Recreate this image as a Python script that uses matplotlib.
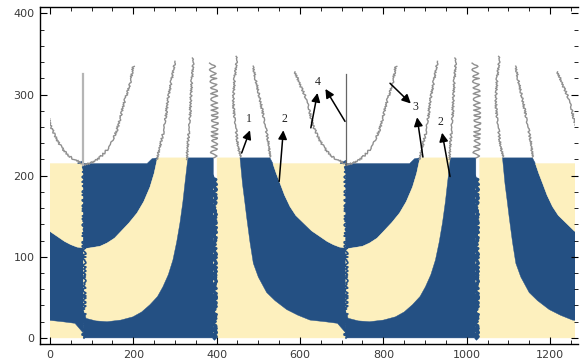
import matplotlib
matplotlib.use("Agg")
import matplotlib.pyplot as plt
from matplotlib.patches import Polygon, Rectangle
from matplotlib.ticker import MultipleLocator

# one period of the pattern (x from 80 to 710), repeated at these offsets
period_offsets = [-630, 0, 630]
x_max = 1260

blue = "#245083"
cream = "#fdf0be"

# region boundaries inside one period
edge_a = [(80, 110), (96, 111), (120, 113), (137, 117), (155, 123), (168, 130),
          (190, 142), (209, 154), (225, 168), (240, 186), (250, 203), (258, 222)]
edge_c = [(80, 25), (110, 21), (137, 20), (170, 22), (199, 26), (220, 32),
          (240, 41), (258, 51), (271, 63), (284, 78), (295, 96), (304, 118),
          (312, 142), (319, 168), (324, 191), (331, 222)]
edge_e1 = [(456, 222), (462, 190), (467, 170), (472, 149), (480, 118), (488, 92),
           (500, 75), (520, 56), (540, 46), (568, 35), (595, 28), (624, 22),
           (660, 20), (690, 18), (700, 12), (710, 6)]
edge_e2 = [(535, 215), (543, 203), (552, 191), (563, 176), (576, 162), (590, 151),
           (608, 142), (628, 132), (648, 125), (665, 119), (680, 115), (695, 112),
           (710, 111)]

blue_a = [(80, 215)] + edge_a + [(245, 221), (233, 215)]
cream_b = edge_a + edge_c[::-1]
blue_c = edge_c + [(392, 222), (392, 0), (80, 0)]
cream_d = [(392, 0), (710, 0)] + edge_e1[::-1] + [(401, 222), (401, 196), (392, 196)]
blue_e = edge_e1 + edge_e2[::-1] + [(528, 222)]
cream_g = edge_e2 + [(710, 215)]
blue_tip = [(66, 215), (80, 219), (80, 215)]
regions = [(blue_a, blue), (cream_b, cream), (blue_c, blue), (cream_d, cream),
           (blue_e, blue), (cream_g, cream), (blue_tip, blue)]

# contour curves above the band
arm_right = [(82, 214), (100, 216), (113, 220), (125, 225), (137, 232), (150, 243),
             (161, 257), (169, 271), (175, 285), (184, 300), (192, 314), (200, 335)]
curve_2 = [(256, 220), (264, 236), (272, 253), (278, 273), (283, 294), (290, 313),
           (296, 331), (300, 341)]
curve_3 = [(328, 220), (332, 246), (336, 273), (340, 314), (344, 345)]
curve_5 = [(457, 223), (450, 240), (446, 260), (441, 280), (440, 294), (443, 320),
           (449, 347)]
curve_6 = [(528, 223), (525, 238), (520, 253), (512, 274), (504, 294), (495, 315),
           (487, 335)]
arm_left = [(588, 328), (602, 310), (616, 294), (624, 277), (632, 261), (644, 247),
            (656, 236), (672, 226), (688, 220), (708, 215)]
zigzag = [(393, 222), (396, 260), (394, 300), (390, 339)]

vline_x = [80, 710]
vline_top = 325

# labels and their arrows: (text, label position, [(tail, head), ...])
labels = [
    ("1", (478, 262), [((460, 228), (480, 256))]),
    ("2", (562, 262), [((550, 193), (560, 256))]),
    ("4", (643, 308), [((626, 259), (642, 302)), ((708, 267), (661, 307))]),
    ("3", (876, 277), [((816, 314), (866, 289)), ((895, 223), (881, 272))]),
    ("2", (938, 259), [((960, 199), (941, 253))]),
]

fig = plt.figure(figsize=(5.82, 3.63), dpi=100)
ax = fig.add_axes([0.0687, 0.0523, 0.9243, 0.9284])
ax.set_xlim(-24, 1267)
ax.set_ylim(-7.5, 408)

clip = Rectangle((0, -10), x_max, 430, transform=ax.transData, visible=False)
ax.add_patch(clip)

for off in period_offsets:
    for pts, col in regions:
        poly = Polygon([(x + off, y) for x, y in pts], closed=True,
                       facecolor=col, edgecolor=col, lw=0.3, zorder=1)
        ax.add_patch(poly)
        poly.set_clip_path(clip)

    # ragged edges of the band
    for ex, y0, y1, w in [(393, 0, 200, 2.2), (81, 0, 214, 1.2)]:
        ln, = ax.plot([ex + off, ex + off], [y0, y1], color=blue, lw=w, zorder=2)
        ln.set_sketch_params(2.0, 4, 3)
        ln.set_clip_path(clip)

    for c in [arm_right, curve_2, curve_3, curve_5, curve_6, arm_left]:
        ln, = ax.plot([x + off for x, y in c], [y for x, y in c],
                      color="#8f8f8f", lw=1.0, zorder=3)
        ln.set_sketch_params(1.0, 2, 2)
        ln.set_clip_path(clip)
    ln, = ax.plot([x + off for x, y in zigzag], [y for x, y in zigzag],
                  color="#8f8f8f", lw=1.0, zorder=3)
    ln.set_sketch_params(3.5, 6, 2)
    ln.set_clip_path(clip)

ax.plot([vline_x[0], vline_x[0]], [213, vline_top], color="#b5b5b5", lw=1.6, zorder=3)
ax.plot([vline_x[1], vline_x[1]], [213, vline_top], color="#666666", lw=0.9, zorder=3)

for txt, pos, arrows in labels:
    ax.text(pos[0], pos[1], txt, ha="center", va="bottom", fontsize=8.5,
            family="Liberation Serif", color="#222222", zorder=5)
    for tail, head in arrows:
        ax.annotate("", xy=head, xytext=tail, zorder=4,
                    arrowprops=dict(arrowstyle="-|>", color="black", lw=1.1,
                                    mutation_scale=13, shrinkA=0, shrinkB=0))

# frame and ticks
ax.xaxis.set_major_locator(MultipleLocator(200))
ax.xaxis.set_minor_locator(MultipleLocator(50))
ax.yaxis.set_major_locator(MultipleLocator(100))
ax.yaxis.set_minor_locator(MultipleLocator(20))
ax.tick_params(which="both", direction="in", top=True, right=True,
               labelsize=8, labelcolor="#3a3a3a", pad=4)
ax.tick_params(which="major", length=5, width=0.8)
ax.tick_params(which="minor", length=3, width=0.6)
for s in ["left", "bottom", "top"]:
    ax.spines[s].set_linewidth(1.0)
ax.spines["right"].set_visible(False)

fig.savefig("out.png", dpi=100)
